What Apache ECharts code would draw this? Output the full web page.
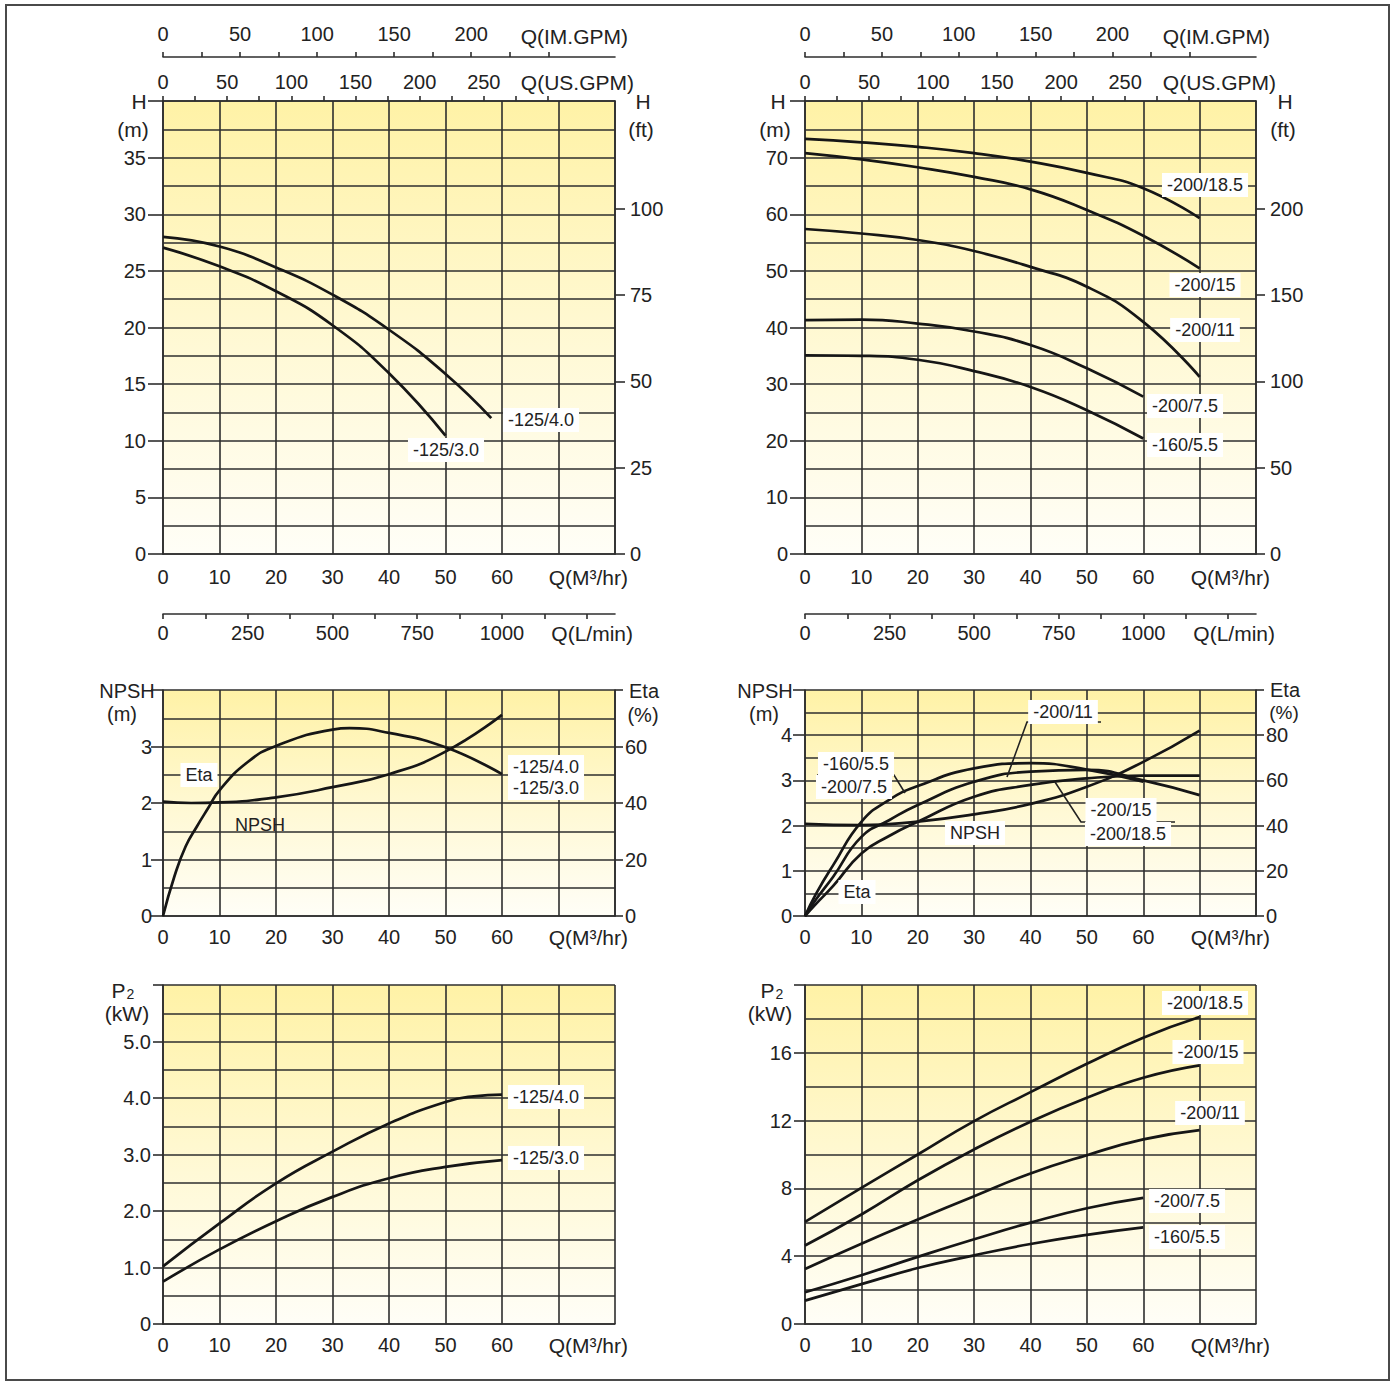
<!DOCTYPE html>
<html><head><meta charset="utf-8">
<script src="https://cdn.jsdelivr.net/npm/echarts@6/dist/echarts.min.js"></script>
<style>html,body{margin:0;padding:0;background:#fff}#c{width:1395px;height:1384px}</style>
</head><body><div id="c"></div>
<script>
// ================= DATA =================
// flow axis tick labels
const qLabels     = [0,10,20,30,40,50,60];
const usGpmLabels = [0,50,100,150,200,250];
const usGpmTicks  = [0,25,50,75,100,125,150,175,200,225,250,275,300];
const imGpmLabels = [0,50,100,150,200];
const imGpmTicks  = [0,25,50,75,100,125,150,175,200,225,250];
const lminLabels  = [0,250,500,750,1000];
const lminTicks   = [0,125,250,375,500,625,750,875,1000,1125,1250];
const ftLabelsA   = [0,25,50,75,100];
const ftLabelsB   = [0,50,100,150,200];

// Panel A: H (m) vs Q, models -125/4.0 and -125/3.0
const qA_40 = [0,10,20,30,40,50,58.1];
const hA_40 = [28.0,27.15,25.3,22.9,19.8,15.9,12.0];
const qA_30 = [0,10,20,30,40,50];
const hA_30 = [27.05,25.4,23.2,20.2,15.96,10.45];

// Panel B: H (m) vs Q
const qB_70 = [0,10,20,30,40,50,60,70];
const qB_60 = [0,10,20,30,40,50,60];
const hB_185 = [73.3,72.7,71.9,70.8,69.3,67.3,64.6,59.3];
const hB_15  = [70.8,69.7,68.3,66.6,64.4,60.75,56.2,50.45];
const hB_11  = [57.4,56.6,55.45,53.5,50.7,47.2,41.0,31.3];
const hB_75  = [41.3,41.4,40.7,39.3,36.9,32.8,27.8];
const hB_55  = [35.1,35.0,34.3,32.3,29.5,25.4,20.4];

// Panel C: NPSH (m) and Eta (%) for -125 series
const qC_npsh = [0,5,10,20,30,40,50,60];
const npshC   = [2.025,2.0,2.01,2.1,2.28,2.51,2.91,3.56];
const qC_eta  = [0,2,4,6,8,10,15,20,30,33,40,50,60];
const etaC    = [0,13.9,24.6,31.7,38.2,44.5,54.5,60.2,66,66.5,64.8,59.7,50.2];

// Panel D: NPSH (m) and Eta (%) for -160/-200 series
const qD_npsh = [0,10,20,30,40,50,60,70];
const npshD   = [2.04,2.01,2.09,2.25,2.48,2.86,3.41,4.1];
const qD_top  = [0,2,5,10,15,20,30,40,50,60];
const etaD_55_75  = [0,10,22.5,41.7,51.5,57.5,65.3,67.6,64.8,59.4];
const qD_70   = [0,2,5,10,15,20,30,40,50,60,70];
const etaD_11     = [0,7.5,17.4,35.0,42.5,49.1,59.4,63.9,64.7,60.0,53.5];
const etaD_15_185 = [0,5.5,13.3,27.7,35.5,41.7,52.8,58.0,60.9,62.1,62.1];

// Panel E: P2 (kW) for -125 series
const qE_40 = [0,10,20,30,40,50,55,60];
const pE_40 = [1.02,1.78,2.49,3.05,3.55,3.93,4.03,4.06];
const qE_30 = [0,10,20,30,40,50,60];
const pE_30 = [0.75,1.32,1.82,2.25,2.58,2.78,2.9];

// Panel F: P2 (kW) for -160/-200 series
const qF_70 = [0,10,20,30,40,50,60,70];
const qF_60 = [0,10,20,30,40,50,60];
const pF_185 = [6.02,8.03,10.0,11.97,13.68,15.35,16.89,18.11];
const pF_15  = [4.63,6.46,8.48,10.3,11.93,13.35,14.53,15.26];
const pF_11  = [3.25,4.74,6.16,7.54,8.88,9.96,10.89,11.44];
const pF_75  = [1.87,2.88,3.96,5.0,5.98,6.83,7.44];
const pF_55  = [1.38,2.35,3.3,4.05,4.72,5.26,5.7];

// unit conversions (per m3/h and per m)
const US_GPM = 4.40287, IM_GPM = 3.66615, L_MIN = 1000/60, FT = 3.28084;
const Q_MAX = 80;

// ================= LAYOUT / STYLE =================
const FONT = 'Liberation Sans, Arial, Helvetica, sans-serif';
const INK = '#222';
const GRIDC = '#2e2e2e';
const LS = {color: GRIDC, width: 1.6};
const CURVE = {color: '#161616', width: 2.7};
const grids = [
  {left:163, top:101, width:452, height:453},
  {left:805, top:101, width:451, height:453},
  {left:163, top:690, width:452, height:226},
  {left:805, top:690, width:451, height:226},
  {left:163, top:985, width:452, height:339},
  {left:805, top:985, width:451, height:339}
];
const bg = {type:'linear', x:0, y:0, x2:0, y2:1,
  colorStops:[{offset:0,color:'#FFF2A6'},{offset:0.55,color:'#FFF9D6'},{offset:1,color:'#FFFEF7'}]};

function only(vals, fmt){ return v => (vals.some(x => Math.abs(x - v) < 1e-6) ? (fmt ? fmt(v) : String(v)) : ''); }

function qAxis(gi, margin){
  return {type:'value', gridIndex:gi, position:'bottom', min:0, max:Q_MAX, interval:10,
    axisLine:{show:true, onZero:false, lineStyle:LS}, axisTick:{show:false},
    splitLine:{show:true, lineStyle:LS},
    axisLabel:{customValues:qLabels, formatter:only(qLabels), margin:margin, fontSize:20, color:INK, fontFamily:FONT}};
}
function convAxis(gi, factor, ticks, labels, position, offset, margin, interval){
  return {type:'value', gridIndex:gi, position:position, offset:offset, min:0, max:Q_MAX*factor, interval:interval,
    axisLine:{show:true, onZero:false, lineStyle:LS},
    axisTick:{show:true, customValues:ticks, length:5, lineStyle:LS},
    splitLine:{show:false},
    axisLabel:{customValues:labels, formatter:only(labels), margin:margin, fontSize:20, color:INK, fontFamily:FONT}};
}
function leftAxis(gi, max, interval, labels, margin, tick, fmt){
  return {type:'value', gridIndex:gi, position:'left', min:0, max:max, interval:interval,
    axisLine:{show:true, onZero:false, lineStyle:LS},
    axisTick:{show:true, length:tick, lineStyle:LS},
    minorTick:{show:false, splitNumber:2},
    splitLine:{show:true, lineStyle:LS},
    minorSplitLine:{show:true, lineStyle:LS},
    axisLabel:{customValues:labels, formatter:only(labels, fmt), margin:margin, fontSize:20, color:INK, fontFamily:FONT}};
}
function rightAxis(gi, max, interval, labels, ticks, margin, tick){
  return {type:'value', gridIndex:gi, position:'right', min:0, max:max, interval:interval,
    axisLine:{show:true, onZero:false, lineStyle:LS},
    axisTick:{show:true, customValues:ticks, length:tick, lineStyle:LS},
    splitLine:{show:false},
    axisLabel:{customValues:labels, formatter:only(labels), margin:margin, fontSize:20, color:INK, fontFamily:FONT}};
}

const xAxis = [
  qAxis(0, 13),
  convAxis(0, US_GPM, usGpmTicks, usGpmLabels, 'top', 0, 9, 25),
  convAxis(0, IM_GPM, imGpmTicks, imGpmLabels, 'top', 44, 13, 25),
  convAxis(0, L_MIN, lminTicks, lminLabels, 'bottom', 60, 9, 125),
  qAxis(1, 13),
  convAxis(1, US_GPM, usGpmTicks, usGpmLabels, 'top', 0, 9, 25),
  convAxis(1, IM_GPM, imGpmTicks, imGpmLabels, 'top', 44, 13, 25),
  convAxis(1, L_MIN, lminTicks, lminLabels, 'bottom', 60, 9, 125),
  qAxis(2, 11), qAxis(3, 11), qAxis(4, 11), qAxis(5, 11)
];
const p2fmt = v => (v === 0 ? '0' : v.toFixed(1));
const yAxis = [
  leftAxis(0, 40, 5, [0,5,10,15,20,25,30,35], 17, 15),
  rightAxis(0, 40*FT, 25, ftLabelsA, ftLabelsA, 15, 10),
  leftAxis(1, 80, 10, [0,10,20,30,40,50,60,70], 17, 15),
  rightAxis(1, 80*FT, 50, ftLabelsB, ftLabelsB, 14, 9),
  leftAxis(2, 4, 1, [0,1,2,3], 11, 12),
  rightAxis(2, 80, 20, [0,20,40,60], [0,20,40,60,80], 10, 8),
  leftAxis(3, 5, 1, [0,1,2,3,4], 13, 12),
  rightAxis(3, 100, 20, [0,20,40,60,80], [0,20,40,60,80,100], 10, 8),
  leftAxis(4, 6, 1, [0,1,2,3,4,5], 12, 10, p2fmt),
  leftAxis(5, 20, 4, [0,4,8,12,16], 13, 11)
];

function pairs(q, v){ return q.map((x, i) => [x, v[i]]); }
function curve(name, xi, yi, q, v){
  return {type:'line', name:name, xAxisIndex:xi, yAxisIndex:yi, data:pairs(q, v),
    smooth:0.5, symbol:'none', silent:true, lineStyle:CURVE, z:5};
}
const series = [
  curve('-125/4.0 H', 0, 0, qA_40, hA_40),
  curve('-125/3.0 H', 0, 0, qA_30, hA_30),
  curve('-200/18.5 H', 4, 2, qB_70, hB_185),
  curve('-200/15 H', 4, 2, qB_70, hB_15),
  curve('-200/11 H', 4, 2, qB_70, hB_11),
  curve('-200/7.5 H', 4, 2, qB_60, hB_75),
  curve('-160/5.5 H', 4, 2, qB_60, hB_55),
  curve('NPSH -125', 8, 4, qC_npsh, npshC),
  curve('Eta -125', 8, 5, qC_eta, etaC),
  curve('NPSH -160/-200', 9, 6, qD_npsh, npshD),
  curve('Eta -160/5.5,-200/7.5', 9, 7, qD_top, etaD_55_75),
  curve('Eta -200/11', 9, 7, qD_70, etaD_11),
  curve('Eta -200/15,-200/18.5', 9, 7, qD_70, etaD_15_185),
  curve('-125/4.0 P2', 10, 8, qE_40, pE_40),
  curve('-125/3.0 P2', 10, 8, qE_30, pE_30),
  curve('-200/18.5 P2', 11, 9, qF_70, pF_185),
  curve('-200/15 P2', 11, 9, qF_70, pF_15),
  curve('-200/11 P2', 11, 9, qF_70, pF_11),
  curve('-200/7.5 P2', 11, 9, qF_60, pF_75),
  curve('-160/5.5 P2', 11, 9, qF_60, pF_55)
];

// ================= ANNOTATIONS =================
function T(x, y, text, align, size, boxed){
  const st = {text:text, x:0, y:0, font: (size||21) + 'px ' + FONT, fill: INK,
    textAlign: align || 'center', textVerticalAlign: 'middle'};
  if (boxed){ st.backgroundColor = '#ffffff'; st.textBackgroundColor = '#ffffff'; st.padding = [3,5]; st.textPadding = [3,5]; }
  return {type:'text', x:x, y:y, z:100, silent:true, style:st};
}
function L(points){ return {type:'polyline', z:100, silent:true, shape:{points:points}, style:{stroke:INK, lineWidth:1.6, fill:null}}; }
function P2(x, y){
  return {type:'text', x:x, y:y, z:100, silent:true, style:{text:'{a|P}{b|2}', x:0, y:0, textAlign:'center', textVerticalAlign:'middle', fill:INK,
    rich:{a:{fontSize:21, fontFamily:FONT, color:INK}, b:{fontSize:14, fontFamily:FONT, color:INK, padding:[7,0,0,1]}}}};
}
const dx = 642;
const graphic = [
  {type:'rect', z:100, silent:true, shape:{x:6, y:5, width:1383, height:1375}, style:{fill:null, stroke:'#4a4a4a', lineWidth:2}},
  // panel A / B units
  T(139,101,'H'), T(133,129,'(m)'), T(643,101,'H'), T(641,129,'(ft)'),
  T(139+dx-3,101,'H'), T(133+dx,129,'(m)'), T(643+dx,101,'H'), T(641+dx,129,'(ft)'),
  T(628,36,'Q(IM.GPM)','right'), T(634,82,'Q(US.GPM)','right'),
  T(628,577,'Q(M³/hr)','right'), T(633,633,'Q(L/min)','right'),
  T(628+dx,36,'Q(IM.GPM)','right'), T(634+dx,82,'Q(US.GPM)','right'),
  T(628+dx,577,'Q(M³/hr)','right'), T(633+dx,633,'Q(L/min)','right'),
  // panel C / D units
  T(127,691,'NPSH',null,20), T(122,714,'(m)',null,20), T(644,691,'Eta',null,20), T(643,715,'(%)',null,20),
  T(765,691,'NPSH',null,20), T(764,714,'(m)',null,20), T(1285,690,'Eta',null,20), T(1284,712,'(%)',null,19),
  T(628,937,'Q(M³/hr)','right'), T(1270,937,'Q(M³/hr)','right'),
  // panel E / F units
  P2(123,990), T(127,1013,'(kW)'), P2(772,990), T(770,1013,'(kW)'),
  T(628,1345,'Q(M³/hr)','right'), T(1270,1345,'Q(M³/hr)','right'),
  // curve labels A
  T(541,420,'-125/4.0','center',18,true), T(446,450,'-125/3.0','center',18,true),
  // curve labels B
  T(1205,185,'-200/18.5','center',18,true), T(1205,285,'-200/15','center',18,true),
  T(1205,330,'-200/11','center',18,true), T(1185,406,'-200/7.5','center',18,true),
  T(1185,445,'-160/5.5','center',18,true),
  // curve labels C
  T(546,767,'-125/4.0','center',18,true), T(546,788,'-125/3.0','center',18,true),
  T(199,775,'Eta','center',18,true), T(260,825,'NPSH','center',18),
  // curve labels D
  L([[817,775],[894,775],[905,793]]),
  T(856,764,'-160/5.5','center',18,true), T(854,787,'-200/7.5','center',18,true),
  L([[1101,722],[1027,722],[1007,777]]),
  T(1063,712,'-200/11','center',18,true),
  L([[1055,782],[1081,822],[1175,822]]),
  T(1121,810,'-200/15','center',18,true), T(1128,834,'-200/18.5','center',18,true),
  T(857,892,'Eta','center',18,true), T(975,833,'NPSH','center',18,true),
  // curve labels E
  T(546,1097,'-125/4.0','center',18,true), T(546,1158,'-125/3.0','center',18,true),
  // curve labels F
  T(1205,1003,'-200/18.5','center',18,true), T(1208,1052,'-200/15','center',18,true),
  T(1210,1113,'-200/11','center',18,true), T(1187,1201,'-200/7.5','center',18,true),
  T(1187,1237,'-160/5.5','center',18,true)
];

const chart = echarts.init(document.getElementById('c'), null, {renderer:'svg'});
chart.setOption({
  animation:false,
  backgroundColor:'#ffffff',
  textStyle:{fontFamily:FONT},
  grid: grids.map(g => Object.assign({show:true, borderWidth:0, backgroundColor:bg, containLabel:false}, g)),
  xAxis: xAxis,
  yAxis: yAxis,
  series: series,
  graphic: graphic
});
</script></body></html>
